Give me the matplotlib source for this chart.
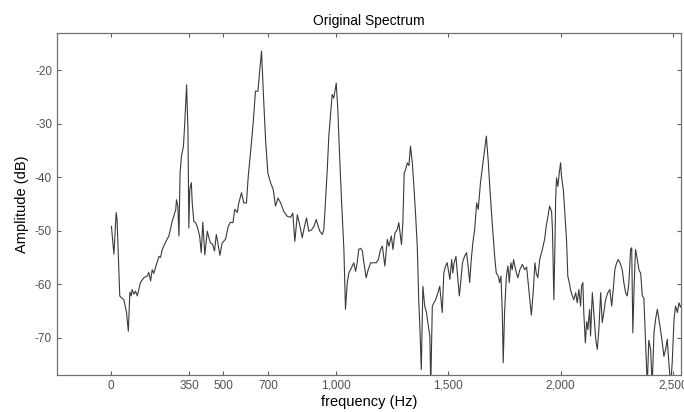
import matplotlib
matplotlib.use("Agg")
import matplotlib.pyplot as plt
from matplotlib.ticker import FuncFormatter

plt.rcParams['font.family'] = ['Liberation Sans', 'DejaVu Sans']

# spectrum (Hz, dB)
freq = [4, 15, 25, 29, 41, 47, 59, 71, 79, 86, 92, 96, 104, 111, 119, 133, 148, 163, 170, 178,
        185, 192, 200, 207, 215, 222, 230, 244, 259, 266, 274, 281, 290, 293, 299, 304, 309, 315, 324, 329,
        338, 344, 348, 352, 359, 363, 370, 378, 385, 396, 403, 410, 419, 430, 437, 444, 453, 462, 470, 477,
        486, 496, 511, 523, 533, 544, 552, 563, 570, 582, 592, 604, 612, 622, 634, 644, 655, 662, 671, 679,
        689, 699, 711, 723, 733, 744, 756, 770, 785, 800, 810, 819, 830, 840, 852, 862, 871, 881, 892, 904,
        914, 923, 930, 941, 948, 953, 963, 970, 978, 985, 992, 1003, 1010, 1018, 1027, 1037, 1044, 1052, 1059, 1071,
        1081, 1089, 1096, 1103, 1111, 1119, 1126, 1136, 1145, 1156, 1169, 1181, 1190, 1200, 1208, 1219, 1230, 1237, 1248, 1255,
        1264, 1274, 1281, 1293, 1299, 1305, 1311, 1319, 1326, 1333, 1341, 1348, 1356, 1363, 1370, 1374, 1381, 1388, 1396, 1404,
        1410, 1419, 1423, 1430, 1437, 1444, 1455, 1463, 1474, 1481, 1489, 1496, 1508, 1516, 1521, 1527, 1535, 1541, 1550, 1556,
        1564, 1573, 1582, 1590, 1596, 1603, 1610, 1618, 1627, 1634, 1644, 1655, 1662, 1670, 1679, 1686, 1696, 1707, 1714, 1723,
        1729, 1735, 1741, 1745, 1751, 1759, 1766, 1772, 1779, 1785, 1791, 1800, 1810, 1819, 1830, 1840, 1849, 1859, 1870, 1879,
        1886, 1892, 1899, 1907, 1919, 1929, 1936, 1944, 1951, 1960, 1964, 1970, 1975, 1978, 1982, 1988, 1994, 2000, 2004, 2012,
        2019, 2027, 2032, 2040, 2044, 2052, 2059, 2067, 2074, 2081, 2089, 2093, 2099, 2103, 2110, 2116, 2121, 2129, 2133, 2141,
        2148, 2156, 2163, 2170, 2178, 2185, 2192, 2200, 2210, 2219, 2227, 2234, 2241, 2249, 2256, 2264, 2274, 2281, 2289, 2296,
        2303, 2311, 2316, 2321, 2327, 2333, 2341, 2348, 2356, 2363, 2370, 2378, 2385, 2392, 2400, 2407, 2415, 2422, 2430, 2437,
        2444, 2452, 2459, 2467, 2474, 2481, 2489, 2496, 2504, 2511, 2519, 2526, 2533, 2541, 2547]
amp = [-49.2, -54.4, -46.6, -47.9, -62.2, -62.5, -62.9, -65.3, -68.8, -61.5, -62.2, -61.0, -61.9, -61.3, -62.2, -59.7, -58.8, -58.5, -57.8, -59.4,
       -57.3, -58.0, -56.9, -56.0, -54.8, -55.0, -53.5, -52.2, -51.0, -49.8, -48.2, -47.3, -46.0, -44.2, -45.4, -51.0, -39.2, -36.1, -34.2, -30.5,
       -22.7, -31.1, -49.5, -42.3, -41.0, -44.8, -48.2, -48.5, -49.2, -51.0, -54.1, -48.4, -54.5, -50.1, -51.3, -52.3, -52.5, -53.8, -50.7, -52.3,
       -54.6, -52.3, -51.6, -49.2, -48.4, -48.5, -46.0, -46.6, -44.8, -42.9, -44.8, -44.8, -39.8, -35.4, -29.8, -23.9, -23.9, -20.5, -16.4, -24.2,
       -33.0, -39.2, -41.0, -42.3, -45.4, -43.9, -44.8, -46.4, -47.3, -47.5, -46.7, -52.0, -47.0, -48.8, -51.3, -49.2, -47.6, -50.1, -49.9, -49.2,
       -47.9, -49.2, -50.1, -50.7, -49.8, -46.0, -38.6, -32.3, -28.0, -24.5, -25.2, -22.4, -27.3, -36.1, -44.8, -53.5, -64.7, -59.7, -57.9, -56.9,
       -56.0, -57.6, -56.0, -53.5, -53.3, -53.8, -56.0, -58.8, -57.3, -56.0, -56.0, -56.0, -55.4, -53.5, -52.9, -56.6, -51.6, -52.9, -51.0, -53.5,
       -50.4, -49.8, -48.5, -52.6, -48.5, -39.2, -38.6, -37.3, -37.8, -34.2, -37.3, -41.7, -47.3, -52.9, -63.5, -67.2, -76.0, -60.4, -64.1, -65.3,
       -67.2, -69.7, -79.0, -64.1, -63.5, -63.0, -61.6, -60.4, -65.3, -57.9, -56.6, -56.0, -59.1, -55.4, -57.9, -56.0, -54.8, -57.9, -62.2, -59.7,
       -56.0, -54.8, -54.1, -57.0, -59.7, -55.4, -52.3, -49.8, -44.8, -46.0, -41.0, -37.3, -34.8, -32.3, -37.3, -42.3, -48.5, -54.8, -57.9, -58.5,
       -59.7, -58.5, -65.3, -74.7, -65.3, -58.5, -56.6, -59.7, -56.0, -57.3, -55.4, -57.3, -58.8, -57.3, -56.3, -57.3, -56.8, -61.0, -65.8, -61.0,
       -56.0, -58.0, -58.8, -55.4, -53.5, -51.6, -49.2, -47.3, -45.4, -46.4, -50.0, -62.9, -52.3, -44.2, -40.1, -41.7, -39.2, -37.3, -39.8, -42.3,
       -46.7, -52.3, -58.5, -60.0, -61.0, -62.2, -62.9, -61.6, -63.5, -61.0, -64.1, -60.4, -59.7, -65.3, -71.0, -67.0, -68.5, -64.7, -69.7, -61.6,
       -65.5, -70.3, -72.2, -68.5, -61.6, -67.2, -65.3, -62.9, -61.6, -61.0, -64.1, -61.0, -57.3, -56.0, -55.4, -56.0, -57.3, -59.7, -61.6, -62.2,
       -60.0, -53.5, -53.2, -69.1, -60.0, -53.5, -55.4, -57.3, -58.0, -62.2, -62.6, -71.6, -79.0, -70.5, -72.2, -79.0, -69.1, -66.6, -64.7, -66.6,
       -68.5, -71.0, -73.5, -72.2, -70.3, -74.7, -79.0, -74.7, -66.6, -64.1, -65.3, -63.5, -64.3, -63.5, -62.0]

xticks = [0, 350, 500, 700, 1000, 1500, 2000, 2500]
yticks = [-70, -60, -50, -40, -30, -20]

fig = plt.figure(figsize=(6.84, 4.12), dpi=100)
ax = fig.add_axes([0.0833, 0.0898, 0.9123, 0.8302])

ax.plot(freq, amp, color='#3a3a3a', lw=0.8)

ax.set_xlim(-238, 2535)
ax.set_ylim(-77, -13)
ax.set_xticks(xticks)
ax.set_yticks(yticks)
ax.xaxis.set_major_formatter(FuncFormatter(lambda v, p: f"{int(v):,}"))
ax.yaxis.set_major_formatter(FuncFormatter(lambda v, p: f"{int(v)}"))

ax.tick_params(direction='in', length=3, width=0.8, top=True, right=True,
               colors='#606060', labelcolor='#505050', labelsize=8.5)
for s in ax.spines.values():
    s.set_color('#707070')
    s.set_linewidth(0.9)

ax.set_title("Original Spectrum", fontsize=10, pad=6)
ax.set_xlabel("frequency (Hz)", fontsize=10.5, labelpad=2)
ax.set_ylabel("Amplitude (dB)", fontsize=10.5, labelpad=4)

fig.savefig("out.png", dpi=100)
